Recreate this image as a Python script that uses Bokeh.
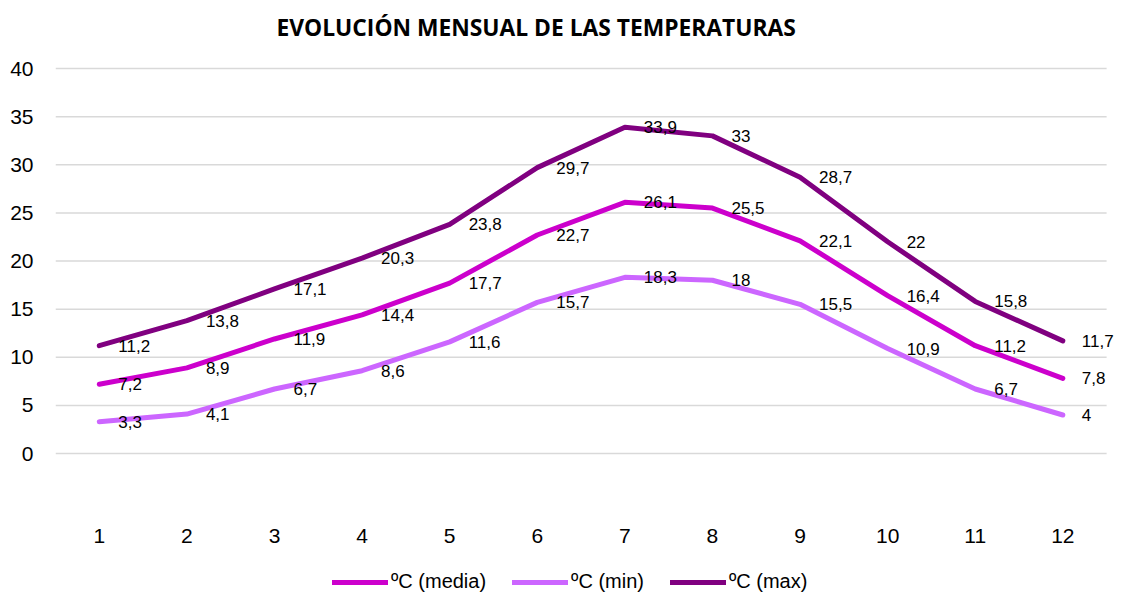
from bokeh.plotting import figure
from bokeh.models import (ColumnDataSource, LabelSet, FixedTicker, Legend,
                          LegendItem, Range1d)
from bokeh.core.properties import value
from bokeh.embed import file_html
from bokeh.resources import INLINE

# ---- data ----
months = [1, 2, 3, 4, 5, 6, 7, 8, 9, 10, 11, 12]
t_media = [7.2, 8.9, 11.9, 14.4, 17.7, 22.7, 26.1, 25.5, 22.1, 16.4, 11.2, 7.8]
t_min = [3.3, 4.1, 6.7, 8.6, 11.6, 15.7, 18.3, 18.0, 15.5, 10.9, 6.7, 4.0]
t_max = [11.2, 13.8, 17.1, 20.3, 23.8, 29.7, 33.9, 33.0, 28.7, 22.0, 15.8, 11.7]
y_ticks = [0, 5, 10, 15, 20, 25, 30, 35, 40]
series_names = ["ºC (media)", "ºC (min)", "ºC (max)"]
title_text = "EVOLUCIÓN MENSUAL DE LAS TEMPERATURAS"

colors = ["#CC00CC", "#CC66FF", "#800080"]
FONT = "Liberation Sans"


def fmt(v):
    return f"{v:g}".replace(".", ",")


src = ColumnDataSource(dict(
    month=months,
    media=t_media, tmin=t_min, tmax=t_max,
    media_lbl=[fmt(v) for v in t_media],
    tmin_lbl=[fmt(v) for v in t_min],
    tmax_lbl=[fmt(v) for v in t_max],
))

x_lo = months[0] - 0.5
x_hi = months[-1] + 0.5

p = figure(width=1114, height=593, output_backend="svg", toolbar_location=None,
           x_range=Range1d(x_lo, 12.59), y_range=Range1d(-14.545, 42.494),
           min_border_left=55, min_border_right=0, min_border_top=44,
           min_border_bottom=0)
p.outline_line_color = None

p.title.text = title_text
p.title.align = "left"
p.title.offset = 221
p.title.standoff = 4
p.title.text_font = "Open Sans"
p.title.text_font_style = "bold"
p.title.text_font_size = "22.8px"
p.title.text_color = "black"

# grid (drawn only across the category span)
p.xgrid.visible = False
p.ygrid.visible = False
p.segment(x0=x_lo, x1=x_hi, y0=y_ticks, y1=y_ticks,
          line_color="#D9D9D9", line_width=1.5)

# axes
for ax in (p.xaxis[0], p.yaxis[0]):
    ax.axis_line_color = None
    ax.major_tick_line_color = None
    ax.minor_tick_line_color = None
    ax.major_label_text_font = FONT
    ax.major_label_text_font_size = "21px"
    ax.major_label_text_color = "black"
p.yaxis[0].ticker = FixedTicker(ticks=y_ticks)
p.yaxis[0].major_label_standoff = 16
p.xaxis[0].ticker = FixedTicker(ticks=months)
p.xaxis[0].fixed_location = -6.7
p.xaxis[0].major_label_standoff = 5

cols = ["media", "tmin", "tmax"]
renderers = []
for col, c in zip(cols, colors):
    r = p.line("month", col, source=src, line_color=c, line_width=5,
               line_cap="round", line_join="round")
    renderers.append(r)

for col in cols:
    p.add_layout(LabelSet(x="month", y=col, text=col + "_lbl", source=src,
                          x_offset=19, y_offset=0, text_align="left",
                          text_baseline="middle", text_font=value(FONT),
                          text_font_size="17px", text_color="black"))

legend = Legend(items=[LegendItem(label=n, renderers=[r])
                       for n, r in zip(series_names, renderers)],
                orientation="horizontal", location=(277, 0),
                glyph_width=56, glyph_height=20, label_standoff=3,
                spacing=26, padding=0, margin=0,
                border_line_color=None, background_fill_alpha=0,
                label_text_font=FONT, label_text_font_size="20px",
                label_text_color="black")
p.add_layout(legend, "center")

open("out.html", "w").write(file_html(p, INLINE))
